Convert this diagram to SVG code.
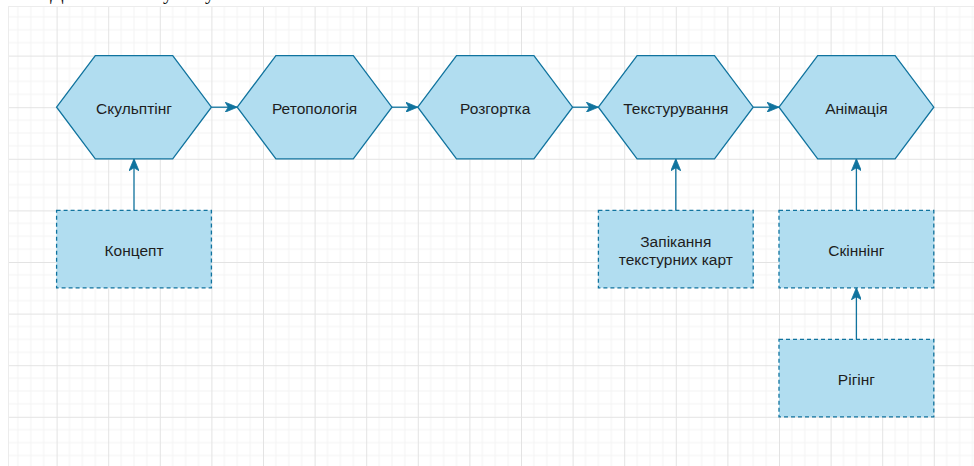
<svg xmlns="http://www.w3.org/2000/svg" width="974" height="466" viewBox="0 0 974 466">
<defs>
<style>
.hex{fill:#b1ddf0;stroke:#10739e;stroke-width:1.3}
.box{fill:#b1ddf0;stroke:#10739e;stroke-width:1.3;stroke-dasharray:4 3}
.lbl{font-family:"Liberation Sans",Arial,"Noto Sans",sans-serif;font-size:15.5px;fill:#1e1e1e;text-anchor:middle}
.edge{fill:none;stroke:#10739e;stroke-width:1.3}
.frag{font-family:"Liberation Serif","Times New Roman",serif;font-size:20px;fill:#111111}
</style>
<pattern id="grid" patternUnits="userSpaceOnUse" x="5" y="4" width="51.6" height="51.6">
<path d="M12.9,0V51.6M25.8,0V51.6M38.7,0V51.6M0,12.9H51.6M0,25.8H51.6M0,38.7H51.6" stroke="#f3f3f3" stroke-width="1" fill="none"/>
<path d="M0.5,0V51.6M0,0.5H51.6" stroke="#e3e3e3" stroke-width="1" fill="none"/>
</pattern>
<polygon id="hexshape" points="0,51.6 38.7,0 116.1,0 154.8,51.6 116.1,103.2 38.7,103.2"/>
<marker id="arr" viewBox="0 0 12 10" refX="12" refY="5" markerWidth="12" markerHeight="10" markerUnits="userSpaceOnUse" orient="auto">
<path d="M0,0 L12,5 L0,10 L3,5 Z" fill="#10739e" stroke="#10739e" stroke-width="0.8"/>
</marker>
</defs>
<rect width="974" height="466" fill="#ffffff"/>
<rect x="8" y="6" width="966" height="460" fill="url(#grid)"/>
<path d="M8.5,6V466M8,6.5H974" stroke="#ececec" stroke-width="1" fill="none"/>
<g id="caption-fragment">
<text class="frag" x="50" y="-1.5">Д</text>
<text class="frag" x="163" y="-1">у</text>
<text class="frag" x="205" y="-1">у</text>
</g>
<g id="connectors">
<line class="edge" x1="211.4" y1="107.2" x2="237.2" y2="107.2" marker-end="url(#arr)"/>
<line class="edge" x1="392" y1="107.2" x2="417.8" y2="107.2" marker-end="url(#arr)"/>
<line class="edge" x1="572.6" y1="107.2" x2="598.4" y2="107.2" marker-end="url(#arr)"/>
<line class="edge" x1="753.2" y1="107.2" x2="779" y2="107.2" marker-end="url(#arr)"/>
<line class="edge" x1="134" y1="210.4" x2="134" y2="158.8" marker-end="url(#arr)"/>
<line class="edge" x1="675.8" y1="210.4" x2="675.8" y2="158.8" marker-end="url(#arr)"/>
<line class="edge" x1="856.4" y1="210.4" x2="856.4" y2="158.8" marker-end="url(#arr)"/>
<line class="edge" x1="856.4" y1="339.4" x2="856.4" y2="287.8" marker-end="url(#arr)"/>
</g>
<g id="sculpting">
<use href="#hexshape" class="hex" x="56.6" y="55.6"/>
<text class="lbl" x="134" y="113.5">Скульптінг</text>
</g>
<g id="retopology">
<use href="#hexshape" class="hex" x="237.2" y="55.6"/>
<text class="lbl" x="314.6" y="113.5">Ретопологія</text>
</g>
<g id="unwrap">
<use href="#hexshape" class="hex" x="417.8" y="55.6"/>
<text class="lbl" x="495.2" y="113.5">Розгортка</text>
</g>
<g id="texturing">
<use href="#hexshape" class="hex" x="598.4" y="55.6"/>
<text class="lbl" x="675.8" y="113.5">Текстурування</text>
</g>
<g id="animation">
<use href="#hexshape" class="hex" x="779" y="55.6"/>
<text class="lbl" x="856.4" y="113.5">Анімація</text>
</g>
<g id="concept">
<rect class="box" x="56.6" y="210.4" width="154.8" height="77.4"/>
<text class="lbl" x="134" y="255.5">Концепт</text>
</g>
<g id="baking">
<rect class="box" x="598.4" y="210.4" width="154.8" height="77.4"/>
<text class="lbl" x="675.8" y="246.8">Запікання</text>
<text class="lbl" x="675.8" y="264.5">текстурних карт</text>
</g>
<g id="skinning">
<rect class="box" x="779" y="210.4" width="154.8" height="77.4"/>
<text class="lbl" x="856.4" y="255.5">Скіннінг</text>
</g>
<g id="rigging">
<rect class="box" x="779" y="339.4" width="154.8" height="77.4"/>
<text class="lbl" x="856.4" y="384.5">Рігінг</text>
</g>
</svg>
